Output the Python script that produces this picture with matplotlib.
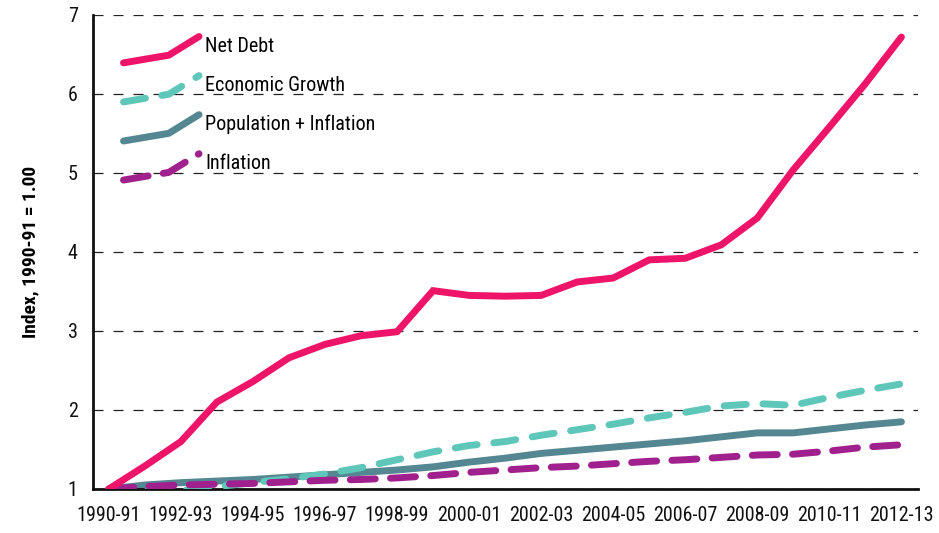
import numpy as np
import matplotlib
matplotlib.use("Agg")
import matplotlib.pyplot as plt
from matplotlib.legend_handler import HandlerLine2D
from matplotlib.lines import Line2D
from matplotlib import font_manager

years = ["1990-91", "1991-92", "1992-93", "1993-94", "1994-95", "1995-96", "1996-97",
         "1997-98", "1998-99", "1999-00", "2000-01", "2001-02", "2002-03", "2003-04",
         "2004-05", "2005-06", "2006-07", "2007-08", "2008-09", "2009-10", "2010-11",
         "2011-12", "2012-13"]

net_debt = [1.00, 1.29, 1.60, 2.10, 2.36, 2.66, 2.83, 2.94, 2.99, 3.51, 3.45, 3.44,
            3.45, 3.62, 3.67, 3.90, 3.92, 4.09, 4.43, 5.04, 5.58, 6.13, 6.72]
econ_growth = [1.00, 0.98, 0.98, 1.03, 1.08, 1.13, 1.19, 1.27, 1.37, 1.47, 1.55, 1.60,
               1.68, 1.75, 1.82, 1.90, 1.97, 2.05, 2.08, 2.06, 2.16, 2.25, 2.33]
pop_inflation = [1.00, 1.05, 1.08, 1.10, 1.12, 1.15, 1.18, 1.21, 1.24, 1.28, 1.34, 1.39,
                 1.45, 1.49, 1.53, 1.57, 1.61, 1.66, 1.71, 1.71, 1.76, 1.81, 1.85]
inflation = [1.00, 1.03, 1.05, 1.06, 1.07, 1.09, 1.11, 1.12, 1.14, 1.17, 1.21, 1.24,
             1.27, 1.29, 1.32, 1.35, 1.37, 1.40, 1.43, 1.44, 1.48, 1.53, 1.56]

series_labels = ["Net Debt", "Economic Growth", "Population + Inflation", "Inflation"]
colors = ["#EE1469", "#5FC7B9", "#558792", "#A0208D"]
yticks = [1, 2, 3, 4, 5, 6, 7]

avail = {f.name for f in font_manager.fontManager.ttflist}
fam = [f for f in ["Liberation Sans Narrow", "Roboto Condensed", "DejaVu Sans"] if f in avail]
plt.rcParams['font.family'] = fam

fig = plt.figure(figsize=(9.39, 5.33), dpi=100)
ax = fig.add_axes([0.099, 0.0826, 0.879, 0.8894])

x = np.arange(len(years))
lw = 5.0
l1, = ax.plot(x, net_debt, color=colors[0], lw=lw, solid_capstyle='round',
              solid_joinstyle='miter', zorder=5, label=series_labels[0])
l2, = ax.plot(x, econ_growth, color=colors[1], lw=lw, dashes=(3.2, 2.4),
              dash_capstyle='round', zorder=3, label=series_labels[1])
l3, = ax.plot(x, pop_inflation, color=colors[2], lw=lw, solid_capstyle='round',
              zorder=2, label=series_labels[2])
l4, = ax.plot(x, inflation, color=colors[3], lw=lw, dashes=(3.6, 2.2),
              dash_capstyle='round', zorder=4, label=series_labels[3])

ax.set_xlim(-0.44, 22.47)
ax.set_ylim(1, 7)
ax.set_yticks(yticks)
ax.set_yticklabels([str(v) for v in yticks])
ax.set_xticks(x[::2])
ax.set_xticklabels(years[::2])
ax.tick_params(axis='both', length=0, labelsize=14.5, colors='#111111')
ax.tick_params(axis='y', pad=11)
ax.tick_params(axis='x', pad=12)
ax.yaxis.grid(True, linestyle=(0, (8, 8)), color='#222222', lw=0.9)
ax.set_axisbelow(True)
for s in ['top', 'right']:
    ax.spines[s].set_visible(False)
for s in ['left', 'bottom']:
    ax.spines[s].set_linewidth(2.0)
    ax.spines[s].set_color('#111111')
ax.set_ylabel("Index, 1990-91 = 1.00", fontsize=14, fontweight='bold', labelpad=20)


class BentHandler(HandlerLine2D):
    def create_artists(self, legend, orig_handle, xdescent, ydescent, width, height,
                       fontsize, trans):
        xs = np.array([0.0, 0.6, 1.0]) * width - xdescent
        ys = np.array([-0.32, 0.03, 0.88]) * height - ydescent
        line = Line2D(xs, ys)
        self.update_prop(line, orig_handle, legend)
        line.set_transform(trans)
        return [line]


leg = ax.legend(handles=[l1, l2, l3, l4], labels=series_labels, loc='upper left',
                bbox_to_anchor=(0.037, 0.96), frameon=False, fontsize=14.5,
                handlelength=3.75, handleheight=1.3, labelspacing=0.85,
                handletextpad=0.3, borderpad=0, borderaxespad=0,
                handler_map={Line2D: BentHandler()})

fig.savefig("out.png", dpi=100)
